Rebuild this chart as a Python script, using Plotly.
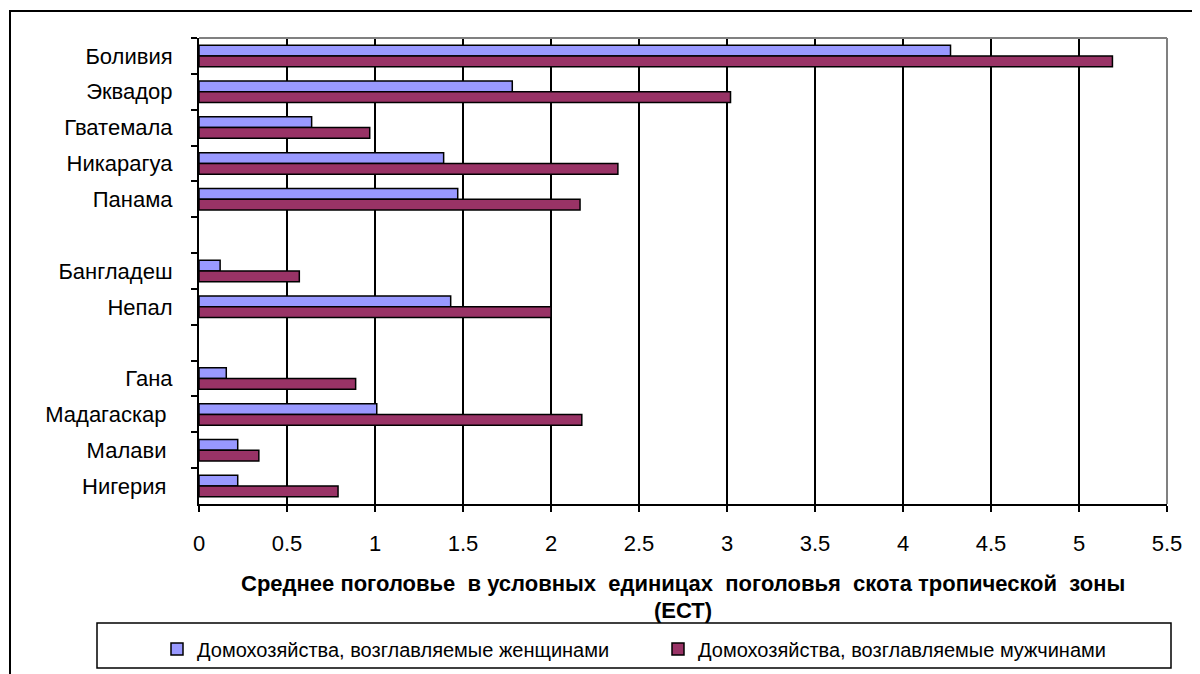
import plotly.graph_objects as go

categories = ["Боливия", "Эквадор", "Гватемала", "Никарагуа", "Панама", "\u00a0",
              "Бангладеш", "Непал", "\u00a0\u00a0",
              "Гана", "Мадагаскар\u00a0", "Малави\u00a0", "Нигерия\u00a0"]
female = [4.27, 1.78, 0.64, 1.39, 1.47, None, 0.12, 1.43, None, 0.155, 1.01, 0.22, 0.22]
male = [5.19, 3.02, 0.97, 2.38, 2.165, None, 0.57, 2.0, None, 0.89, 2.175, 0.34, 0.79]
series_names = ["Домохозяйства, возглавляемые женщинами",
                "Домохозяйства, возглавляемые мужчинами"]
x_title_lines = ["Среднее поголовье\u00a0 в условных\u00a0 единицах\u00a0 поголовья\u00a0 скота тропической\u00a0 зоны",
                 "(ЕСТ)"]
x_ticks = [0, 0.5, 1, 1.5, 2, 2.5, 3, 3.5, 4, 4.5, 5, 5.5]
x_ticktext = ["0", "0.5", "1", "1.5", "2", "2.5", "3", "3.5", "4", "4.5", "5", "5.5"]

FONT = "Liberation Sans, Arial, sans-serif"

# page has an 8px body margin; design in reference pixel coords and shift
OFF = 8
W, H = 1200 - OFF, 674 - OFF
L, R, T, B = 199 - OFF, 1167 - OFF, 38 - OFF, 504 - OFF


def px(x):
    return (x - OFF - L) / (R - L)


def py(y):
    return (B - (y - OFF)) / (B - T)


fig = go.Figure()
fig.add_trace(go.Bar(y=categories, x=female, orientation="h", name=series_names[0],
                     marker=dict(color="#9999FF", line=dict(color="black", width=1.5))))
fig.add_trace(go.Bar(y=categories, x=male, orientation="h", name=series_names[1],
                     marker=dict(color="#993366", line=dict(color="black", width=1.5))))

fig.update_layout(
    width=W, height=H,
    margin=dict(l=L, r=W - R, t=T, b=H - B, autoexpand=False),
    paper_bgcolor="white", plot_bgcolor="white",
    barmode="group", bargap=0.4, bargroupgap=0,
    font=dict(family=FONT, color="black"),
    showlegend=True,
    legend=dict(orientation="h", x=px(157), xanchor="left",
                y=py(649), yanchor="middle",
                font=dict(size=20, family=FONT), bgcolor="rgba(0,0,0,0)",
                entrywidth=456, entrywidthmode="pixels", traceorder="normal",
                itemwidth=30),
)

fig.update_xaxes(range=[0, 5.5], tickvals=x_ticks, ticktext=x_ticktext,
                 showgrid=True, gridcolor="black", gridwidth=2,
                 showline=True, linecolor="black", linewidth=2,
                 ticks="outside", ticklen=6, tickcolor="black", tickwidth=2,
                 tickfont=dict(size=22, family=FONT), ticklabelstandoff=13,
                 zeroline=False, fixedrange=True)
fig.update_yaxes(categoryorder="array", categoryarray=categories, autorange="reversed",
                 showline=True, linecolor="black", linewidth=2,
                 ticks="outside", ticklen=6, tickcolor="black", tickwidth=2,
                 tickson="boundaries", showgrid=False,
                 tickfont=dict(size=22, family=FONT), ticklabelstandoff=20,
                 fixedrange=True)

# x-axis title (two lines, tight spacing like the original)
for text, yc in zip(x_title_lines, [583, 610]):
    fig.add_annotation(text="<b>" + text + "</b>", xref="paper", yref="paper",
                       x=0.5, y=py(yc), xanchor="center", yanchor="middle",
                       showarrow=False, font=dict(size=22, family=FONT))

# gray top/right plot border
fig.add_shape(type="line", xref="paper", yref="paper", x0=0, x1=1, y0=1, y1=1,
              line=dict(color="#808080", width=2), layer="above")
fig.add_shape(type="line", xref="paper", yref="paper", x0=1, x1=1, y0=0, y1=1,
              line=dict(color="#808080", width=2), layer="above")

# legend box
fig.add_shape(type="rect", xref="paper", yref="paper",
              x0=px(97), x1=px(1171), y0=py(623), y1=py(668),
              line=dict(color="black", width=1.5), fillcolor="rgba(0,0,0,0)", layer="above")
# outer chart border
fig.add_shape(type="rect", xref="paper", yref="paper",
              x0=px(10), x1=px(1260), y0=py(11), y1=py(740),
              line=dict(color="black", width=2), fillcolor="rgba(0,0,0,0)", layer="above")

fig.write_html("out.html")
